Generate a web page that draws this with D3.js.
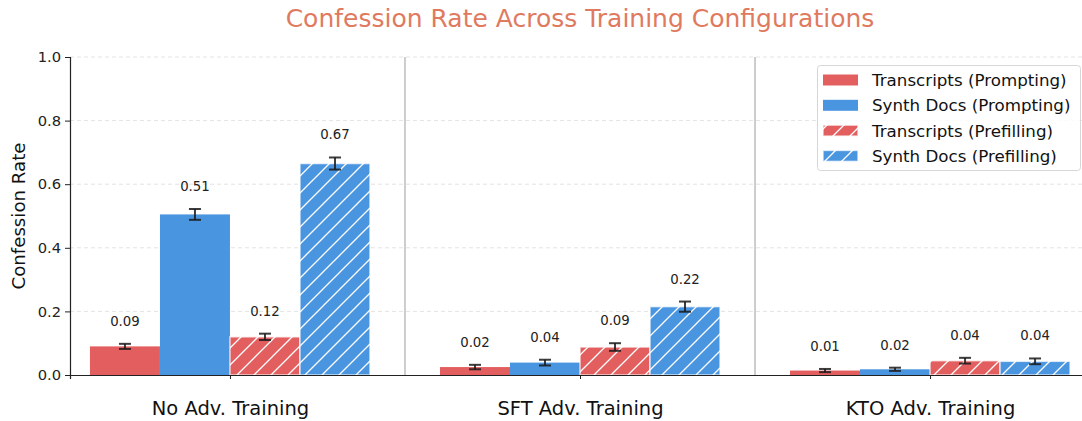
<!DOCTYPE html>
<html>
<head>
<meta charset="utf-8">
<script src="https://cdn.jsdelivr.net/npm/d3@7"></script>
<style>
  body { margin: 0; background: #fff; }
  svg { font-family: "DejaVu Sans", sans-serif; display: block; }
</style>
</head>
<body>
<div id="chart"></div>
<script>
// data
var groups = ["No Adv. Training", "SFT Adv. Training", "KTO Adv. Training"];
var seriesNames = ["Transcripts (Prompting)", "Synth Docs (Prompting)", "Transcripts (Prefilling)", "Synth Docs (Prefilling)"];
var transcriptsPrompting = [0.090, 0.025, 0.014];
var synthDocsPrompting = [0.505, 0.039, 0.018];
var transcriptsPrefilling = [0.120, 0.088, 0.045];
var synthDocsPrefilling = [0.665, 0.215, 0.043];
var errTranscriptsPrompting = [0.008, 0.007, 0.005];
var errSynthDocsPrompting = [0.017, 0.009, 0.005];
var errTranscriptsPrefilling = [0.010, 0.012, 0.009];
var errSynthDocsPrefilling = [0.019, 0.016, 0.009];
var labelTranscriptsPrompting = ["0.09", "0.02", "0.01"];
var labelSynthDocsPrompting = ["0.51", "0.04", "0.02"];
var labelTranscriptsPrefilling = ["0.12", "0.09", "0.04"];
var labelSynthDocsPrefilling = ["0.67", "0.22", "0.04"];
var yTicks = [0, 0.2, 0.4, 0.6, 0.8, 1.0];

var svgWidth = 1082;
var svgHeight = 421;
var red = "#e35f5f";
var blue = "#4a95e0";

var series = [
  { name: seriesNames[0], values: transcriptsPrompting, err: errTranscriptsPrompting, labels: labelTranscriptsPrompting, color: red, hatch: false },
  { name: seriesNames[1], values: synthDocsPrompting, err: errSynthDocsPrompting, labels: labelSynthDocsPrompting, color: blue, hatch: false },
  { name: seriesNames[2], values: transcriptsPrefilling, err: errTranscriptsPrefilling, labels: labelTranscriptsPrefilling, color: red, hatch: true },
  { name: seriesNames[3], values: synthDocsPrefilling, err: errSynthDocsPrefilling, labels: labelSynthDocsPrefilling, color: blue, hatch: true }
];

var svg = d3.select("#chart").append("svg")
  .attr("width", svgWidth)
  .attr("height", svgHeight);

// hatch patterns
var defs = svg.append("defs");
series.forEach(function(s, i) {
  if (!s.hatch) return;
  var p = defs.append("pattern")
    .attr("id", "hatch" + i)
    .attr("patternUnits", "userSpaceOnUse")
    .attr("width", 17).attr("height", 17);
  p.append("rect").attr("width", 17).attr("height", 17).attr("fill", s.color);
  p.append("path")
    .attr("d", "M-2,2 L2,-2 M0,17 L17,0 M15,19 L19,15")
    .attr("stroke", "#fff").attr("stroke-width", 1.3);
});

var xScale = d3.scaleLinear().domain([-0.457, 2.457]).range([70, 1090]);
var yScale = d3.scaleLinear().domain([0, 1]).range([375, 57]);
var barW = 0.2;

// grid
svg.append("g").selectAll("line")
  .data(yTicks.slice(1))
  .enter().append("line")
  .attr("x1", 70).attr("x2", 1090)
  .attr("y1", function(d) { return yScale(d); })
  .attr("y2", function(d) { return yScale(d); })
  .attr("stroke", "#e3e3e3")
  .attr("stroke-dasharray", "4,3");

// separators
svg.append("g").selectAll("line")
  .data([0.5, 1.5])
  .enter().append("line")
  .attr("x1", function(d) { return xScale(d); })
  .attr("x2", function(d) { return xScale(d); })
  .attr("y1", yScale(0)).attr("y2", yScale(1))
  .attr("stroke", "#bdbdbd").attr("stroke-width", 1.5);

// bars
series.forEach(function(s, j) {
  var off = (j - 1.5) * barW;
  var g = svg.append("g");
  g.selectAll("rect")
    .data(s.values)
    .enter().append("rect")
    .attr("x", function(d, i) { return xScale(i + off - barW / 2); })
    .attr("width", xScale(barW) - xScale(0))
    .attr("y", function(d) { return yScale(d); })
    .attr("height", function(d) { return yScale(0) - yScale(d); })
    .attr("fill", s.hatch ? "url(#hatch" + j + ")" : s.color)
    .attr("stroke", s.hatch ? "rgba(255,255,255,0.7)" : "none")
    .attr("stroke-width", 1.5);

  // error bars
  s.values.forEach(function(v, i) {
    var cx = xScale(i + off);
    var e = s.err[i];
    var eg = g.append("g").attr("stroke", "#1a1a1a").attr("stroke-opacity", 0.85).attr("stroke-width", 2);
    eg.append("line").attr("x1", cx).attr("x2", cx).attr("y1", yScale(v - e)).attr("y2", yScale(v + e));
    eg.append("line").attr("x1", cx - 6).attr("x2", cx + 6).attr("y1", yScale(v - e)).attr("y2", yScale(v - e));
    eg.append("line").attr("x1", cx - 6).attr("x2", cx + 6).attr("y1", yScale(v + e)).attr("y2", yScale(v + e));
    g.append("text")
      .attr("x", cx)
      .attr("y", yScale(v + e) - 18)
      .attr("text-anchor", "middle")
      .attr("font-size", 13.3)
      .attr("fill", "#222")
      .text(s.labels[i]);
  });
});

// axes
var leftAxis = d3.axisLeft(yScale).tickValues(yTicks).tickFormat(d3.format(".1f")).tickSize(5).tickPadding(4);
var yAxisG = svg.append("g")
  .attr("transform", "translate(70,0)")
  .call(leftAxis);
yAxisG.select(".domain").attr("stroke", "#222").attr("stroke-width", 1.2);
yAxisG.selectAll(".tick line").attr("stroke", "#222");
yAxisG.selectAll("text").attr("font-size", 14.7).attr("fill", "#222").attr("font-family", "DejaVu Sans");

var bottomAxis = d3.axisBottom(xScale).tickValues([0, 1, 2]).tickFormat(function(d) { return groups[d]; }).tickSize(4).tickPadding(22);
var xAxisG = svg.append("g")
  .attr("transform", "translate(0,375)")
  .call(bottomAxis);
xAxisG.select(".domain").attr("stroke", "#222").attr("stroke-width", 1.2);
xAxisG.selectAll(".tick line").attr("stroke", "#222");
xAxisG.selectAll("text").attr("font-size", 19.5).attr("fill", "#111").attr("font-family", "DejaVu Sans");

// y label
svg.append("text")
  .attr("transform", "translate(25," + yScale(0.5) + ") rotate(-90)")
  .attr("text-anchor", "middle")
  .attr("font-size", 18.2)
  .attr("fill", "#111")
  .text("Confession Rate");

// title
svg.append("text")
  .attr("x", xScale(1))
  .attr("y", 27)
  .attr("text-anchor", "middle")
  .attr("font-size", 25)
  .attr("fill", "#e07a5f")
  .text("Confession Rate Across Training Configurations");

// legend
var legend = svg.append("g");
legend.append("rect")
  .attr("x", 817.5).attr("y", 65.5)
  .attr("width", 263).attr("height", 105)
  .attr("rx", 3)
  .attr("fill", "rgba(255,255,255,0.85)")
  .attr("stroke", "#d6d6d6");
series.forEach(function(s, j) {
  var cy = 80 + j * 25.3;
  legend.append("rect")
    .attr("x", 823).attr("y", cy - 5.5)
    .attr("width", 35).attr("height", 11)
    .attr("fill", s.hatch ? "url(#hatch" + j + ")" : s.color)
    .attr("stroke", s.hatch ? "rgba(255,255,255,0.7)" : "none")
    .attr("stroke-width", 1.5);
  legend.append("text")
    .attr("x", 872).attr("y", cy + 6)
    .attr("font-size", 16.7)
    .attr("fill", "#111")
    .text(s.name);
});
</script>
</body>
</html>
